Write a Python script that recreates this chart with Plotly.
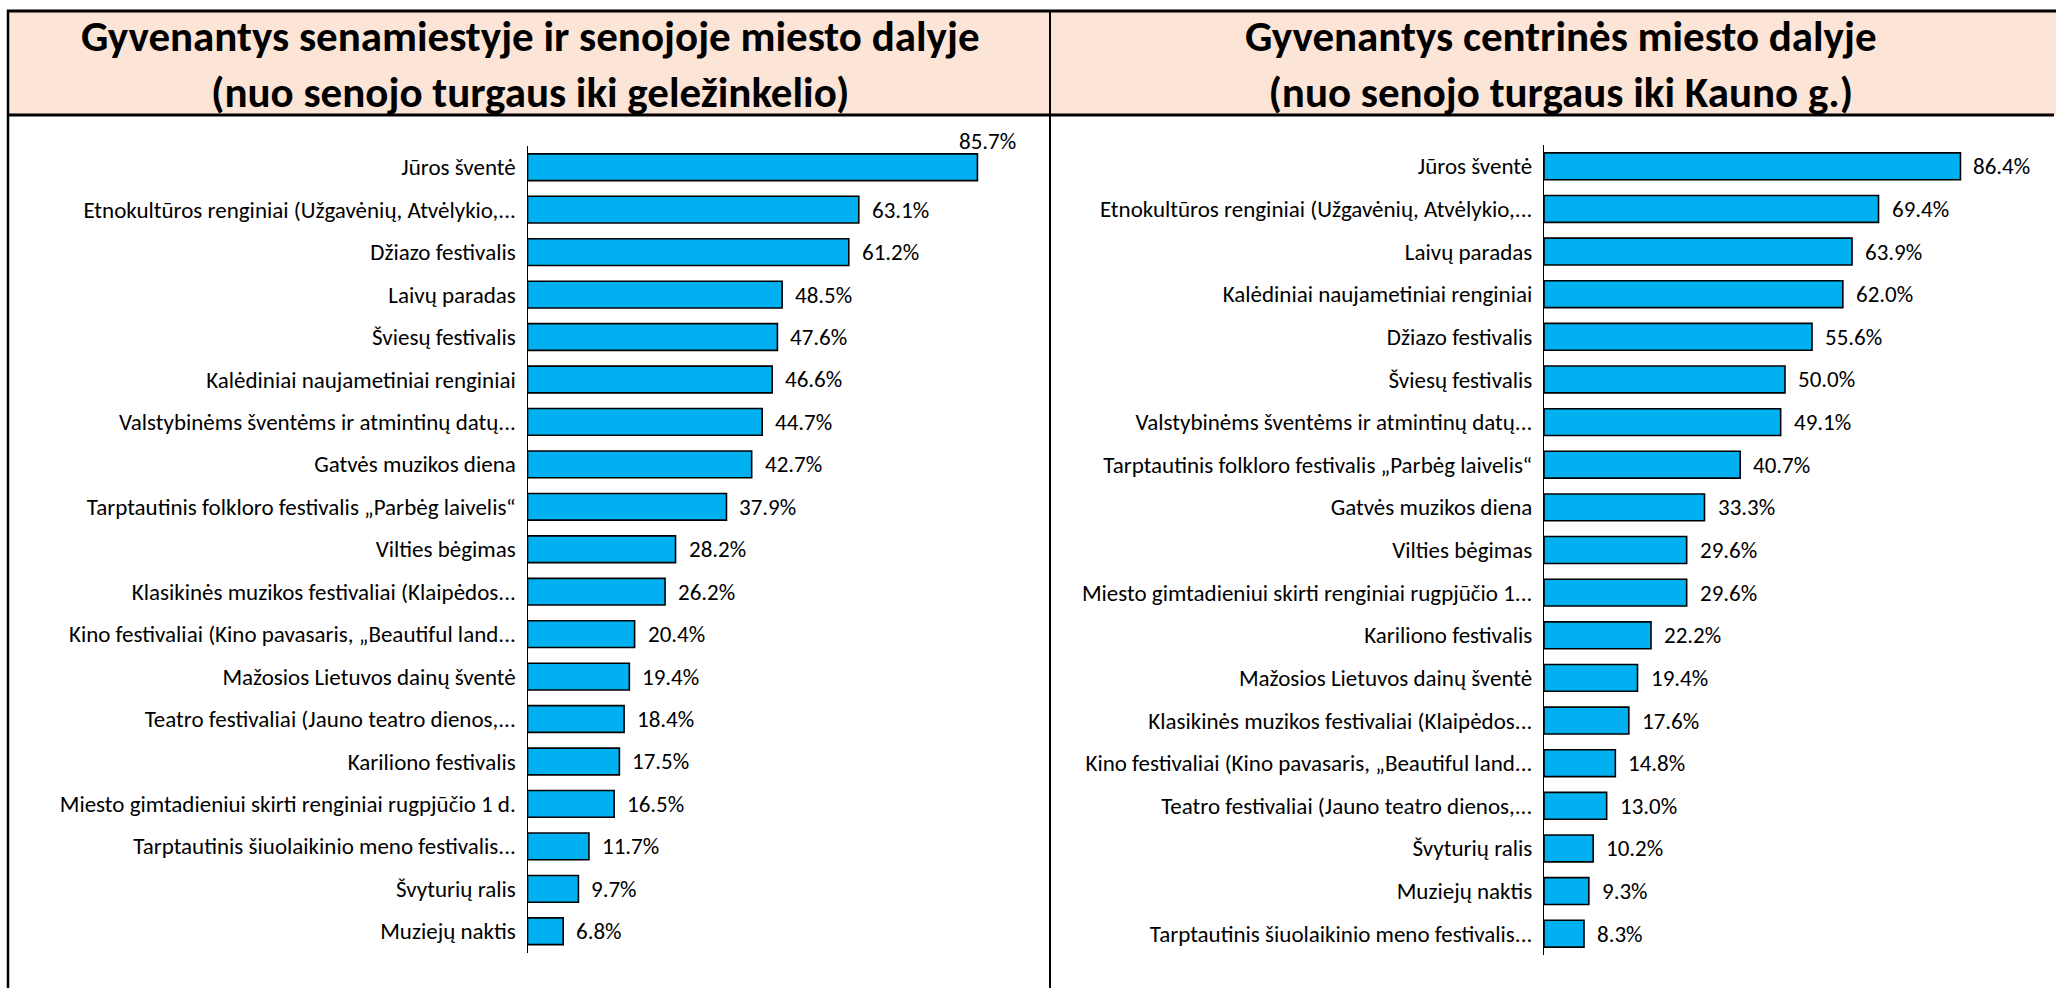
import plotly.graph_objects as go

W, H = 2056, 988

title_left = "Gyvenantys senamiestyje ir senojoje miesto dalyje<br>(nuo senojo turgaus iki geležinkelio)"
title_right = "Gyvenantys centrinės miesto dalyje<br>(nuo senojo turgaus iki Kauno g.)"

cats_left = [
    "Jūros šventė",
    "Etnokultūros renginiai (Užgavėnių, Atvėlykio,...",
    "Džiazo festivalis",
    "Laivų paradas",
    "Šviesų festivalis",
    "Kalėdiniai naujametiniai renginiai",
    "Valstybinėms šventėms ir atmintinų datų...",
    "Gatvės muzikos diena",
    "Tarptautinis folkloro festivalis „Parbėg laivelis“",
    "Vilties bėgimas",
    "Klasikinės muzikos festivaliai (Klaipėdos...",
    "Kino festivaliai (Kino pavasaris, „Beautiful land...",
    "Mažosios Lietuvos dainų šventė",
    "Teatro festivaliai (Jauno teatro dienos,...",
    "Kariliono festivalis",
    "Miesto gimtadieniui skirti renginiai rugpjūčio 1 d.",
    "Tarptautinis šiuolaikinio meno festivalis...",
    "Švyturių ralis",
    "Muziejų naktis",
]
vals_left = [85.7, 63.1, 61.2, 48.5, 47.6, 46.6, 44.7, 42.7, 37.9, 28.2,
             26.2, 20.4, 19.4, 18.4, 17.5, 16.5, 11.7, 9.7, 6.8]

cats_right = [
    "Jūros šventė",
    "Etnokultūros renginiai (Užgavėnių, Atvėlykio,...",
    "Laivų paradas",
    "Kalėdiniai naujametiniai renginiai",
    "Džiazo festivalis",
    "Šviesų festivalis",
    "Valstybinėms šventėms ir atmintinų datų...",
    "Tarptautinis folkloro festivalis „Parbėg laivelis“",
    "Gatvės muzikos diena",
    "Vilties bėgimas",
    "Miesto gimtadieniui skirti renginiai rugpjūčio 1...",
    "Kariliono festivalis",
    "Mažosios Lietuvos dainų šventė",
    "Klasikinės muzikos festivaliai (Klaipėdos...",
    "Kino festivaliai (Kino pavasaris, „Beautiful land...",
    "Teatro festivaliai (Jauno teatro dienos,...",
    "Švyturių ralis",
    "Muziejų naktis",
    "Tarptautinis šiuolaikinio meno festivalis...",
]
vals_right = [86.4, 69.4, 63.9, 62.0, 55.6, 50.0, 49.1, 40.7, 33.3, 29.6,
              29.6, 22.2, 19.4, 17.6, 14.8, 13.0, 10.2, 9.3, 8.3]

FONT = "Carlito, Calibri, Lato, sans-serif"
BAR = "#00B0F0"
HEAD = "#FCE4D6"
LBL = 23
TTL = 43

def px(x):
    return x / W

def py(y):
    return 1 - y / H

fig = go.Figure()
fig.add_trace(go.Bar(x=vals_left, y=cats_left, orientation="h", xaxis="x", yaxis="y",
                     marker=dict(color=BAR, line=dict(color="black", width=1.6)),
                     width=0.63, hoverinfo="x+y"))
fig.add_trace(go.Bar(x=vals_right, y=cats_right, orientation="h", xaxis="x2", yaxis="y2",
                     marker=dict(color=BAR, line=dict(color="black", width=1.6)),
                     width=0.63, hoverinfo="x+y"))

annotations = []
for i, (c, v) in enumerate(zip(cats_left, vals_left)):
    if i == 0:
        annotations.append(dict(x=v, y=c, xref="x", yref="y", text=f"{v:.1f}%",
                                showarrow=False, xanchor="center", yanchor="middle",
                                xshift=10, yshift=26, font=dict(size=LBL, family=FONT, color="black")))
    else:
        annotations.append(dict(x=v, y=c, xref="x", yref="y", text=f"{v:.1f}%",
                                showarrow=False, xanchor="left", yanchor="middle",
                                xshift=11, font=dict(size=LBL, family=FONT, color="black")))
for c, v in zip(cats_right, vals_right):
    annotations.append(dict(x=v, y=c, xref="x2", yref="y2", text=f"{v:.1f}%",
                            showarrow=False, xanchor="left", yanchor="middle",
                            xshift=11, font=dict(size=LBL, family=FONT, color="black")))

# titles
annotations.append(dict(x=px(530), y=py(65), xref="paper", yref="paper", text="<b>" + title_left + "</b>",
                        showarrow=False, xanchor="center", yanchor="middle",
                        font=dict(size=TTL, family=FONT, color="black")))
annotations.append(dict(x=px(1561), y=py(65), xref="paper", yref="paper", text="<b>" + title_right + "</b>",
                        showarrow=False, xanchor="center", yanchor="middle",
                        font=dict(size=TTL, family=FONT, color="black")))

shapes = [
    dict(type="rect", xref="paper", yref="paper", x0=px(8), x1=1, y0=py(115), y1=py(11),
         fillcolor=HEAD, line=dict(width=0), layer="below"),
    dict(type="line", xref="paper", yref="paper", x0=px(7), x1=1, y0=py(11), y1=py(11),
         line=dict(color="black", width=3)),
    dict(type="line", xref="paper", yref="paper", x0=px(7), x1=px(2054), y0=py(115), y1=py(115),
         line=dict(color="black", width=3)),
    dict(type="line", xref="paper", yref="paper", x0=px(8), x1=px(8), y0=py(10), y1=0,
         line=dict(color="black", width=2.5)),
    dict(type="line", xref="paper", yref="paper", x0=px(1050), x1=px(1050), y0=py(10), y1=0,
         line=dict(color="black", width=2)),
]

xl0, xl1 = 527.5, 1040
xr0, xr1 = 1544, 2040
ppl = 5.25
ppr = 4.82

fig.update_layout(
    width=W, height=H, margin=dict(l=0, r=0, t=0, b=0),
    paper_bgcolor="white", plot_bgcolor="rgba(0,0,0,0)",
    showlegend=False, bargap=0.37,
    annotations=annotations, shapes=shapes,
    font=dict(family=FONT, color="black"),
    xaxis=dict(domain=[px(xl0), px(xl1)], range=[0, (xl1 - xl0) / ppl], visible=False, fixedrange=True),
    yaxis=dict(domain=[py(952.5), py(146)], range=[18.5, -0.5], type="category",
               showline=True, linecolor="black", linewidth=1.3, showgrid=False, ticks="",
               ticklabelstandoff=6, tickfont=dict(size=LBL, family=FONT, color="black"),
               anchor="x", fixedrange=True),
    xaxis2=dict(domain=[px(xr0), px(xr1)], range=[0, (xr1 - xr0) / ppr], visible=False, fixedrange=True,
                anchor="y2"),
    yaxis2=dict(domain=[py(955), py(145)], range=[18.5, -0.5], type="category",
                showline=True, linecolor="black", linewidth=1.3, showgrid=False, ticks="",
                ticklabelstandoff=6, tickfont=dict(size=LBL, family=FONT, color="black"),
                anchor="x2", fixedrange=True),
)

fig.write_html("out.html", config={"displayModeBar": False},
               post_script="document.body.style.margin='0';document.body.style.overflow='hidden';")
